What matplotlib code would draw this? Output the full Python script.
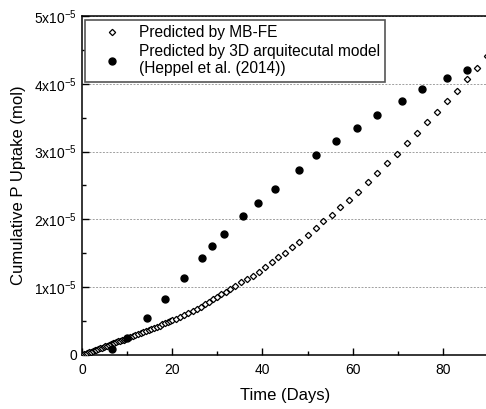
import matplotlib
matplotlib.use('Agg')
import matplotlib.pyplot as plt
from matplotlib.ticker import MultipleLocator, FixedLocator, FixedFormatter

plt.rcParams['font.family'] = ['Liberation Sans', 'DejaVu Sans']
plt.rcParams['mathtext.fontset'] = 'custom'
plt.rcParams['mathtext.rm'] = 'Liberation Sans'
plt.rcParams['mathtext.it'] = 'Liberation Sans:italic'

# MB-FE prediction (days, units of 1e-5 mol)
fe_days = [0.0, 0.4, 0.8, 1.2, 1.6, 2.0, 2.4, 2.8, 3.2, 3.6, 4.0, 4.4, 4.8, 5.2, 5.6,
           6.0, 6.4, 6.8, 7.2, 7.6, 8.0, 8.4, 8.8, 9.2, 9.6,
           10.0, 10.6, 11.2, 11.8, 12.4, 13.0, 13.6, 14.2, 14.8, 15.4, 16.0, 16.6,
           17.2, 17.8, 18.4, 19.0, 19.6,
           20.0, 20.9, 21.8, 22.7, 23.6, 24.5, 25.4, 26.3, 27.2, 28.1, 29.0, 29.9,
           30.9, 31.9, 32.9, 34.0,
           35.3, 36.5, 37.8, 39.2, 40.6, 42.1, 43.5, 45.0, 46.6, 48.1, 50.0, 51.8,
           53.5, 55.4, 57.2, 59.1, 61.1, 63.3, 65.5, 67.7, 69.9, 72.1, 74.3, 76.5,
           78.7, 80.9, 83.1, 85.3, 87.5, 89.7]
fe_uptake = [0.0, 0.01, 0.02, 0.03, 0.04, 0.05, 0.06, 0.07, 0.08, 0.09, 0.10, 0.11, 0.12,
             0.13, 0.14, 0.15, 0.16, 0.17, 0.18, 0.19, 0.20, 0.21, 0.215, 0.225, 0.235,
             0.245, 0.26, 0.275, 0.29, 0.305, 0.32, 0.34, 0.355, 0.37, 0.385, 0.40, 0.415,
             0.43, 0.45, 0.465, 0.48, 0.50,
             0.51, 0.535, 0.565, 0.59, 0.62, 0.65, 0.685, 0.715, 0.75, 0.785, 0.82, 0.855,
             0.895, 0.935, 0.975, 1.02,
             1.08, 1.12, 1.17, 1.22, 1.30, 1.37, 1.44, 1.51, 1.59, 1.67, 1.77, 1.87,
             1.97, 2.07, 2.18, 2.29, 2.41, 2.55, 2.68, 2.83, 2.97, 3.12, 3.27, 3.43,
             3.58, 3.74, 3.90, 4.07, 4.24, 4.41]

# 3D architectural model (Heppel et al. 2014)
arch_days = [6.6, 10.0, 14.5, 18.3, 22.5, 26.7, 28.8, 31.4, 35.8, 39.0, 42.8, 48.0,
             51.8, 56.3, 61.0, 65.4, 71.0, 75.4, 80.9, 85.3]
arch_uptake = [0.09, 0.255, 0.55, 0.83, 1.13, 1.435, 1.61, 1.79, 2.055, 2.246, 2.45, 2.73,
               2.945, 3.156, 3.35, 3.545, 3.75, 3.93, 4.09, 4.20]

y_ticks = [0, 1e-5, 2e-5, 3e-5, 4e-5, 5e-5]
y_tick_labels = ['0', r'$\mathregular{1x10^{-5}}$', r'$\mathregular{2x10^{-5}}$',
                 r'$\mathregular{3x10^{-5}}$', r'$\mathregular{4x10^{-5}}$',
                 r'$\mathregular{5x10^{-5}}$']

fig = plt.figure(figsize=(4.86, 4.09), dpi=100)
ax = fig.add_axes([82 / 486, 1 - 355 / 409, 406 / 486, 339 / 409])

ax.plot(fe_days, [v * 1e-5 for v in fe_uptake], linestyle='none', marker='D',
        ms=3.2, mfc='white', mec='black', mew=0.9, label='Predicted by MB-FE', zorder=3)
ax.plot(arch_days, [v * 1e-5 for v in arch_uptake], linestyle='none', marker='o',
        ms=5.0, mfc='black', mec='black',
        label='Predicted by 3D arquitecutal model\n(Heppel et al. (2014))', zorder=3)

ax.set_xlim(0, 90)
ax.set_ylim(0, 5e-5)
ax.xaxis.set_major_locator(MultipleLocator(20))
ax.xaxis.set_minor_locator(MultipleLocator(10))
ax.yaxis.set_major_locator(FixedLocator(y_ticks))
ax.yaxis.set_major_formatter(FixedFormatter(y_tick_labels))
ax.yaxis.set_minor_locator(MultipleLocator(0.5e-5))
ax.tick_params(which='both', direction='in', labelsize=10, width=1)
ax.tick_params(which='major', length=5)
ax.tick_params(which='minor', length=3)
ax.tick_params(axis='x', pad=6)

ax.yaxis.grid(True, which='major', color='#a0a0a0', linestyle=(0, (2, 1.5)), linewidth=0.7)
ax.set_axisbelow(True)
for s in ax.spines.values():
    s.set_linewidth(1.1)

ax.set_xlabel('Time (Days)', fontsize=12, labelpad=8)
ax.set_ylabel('Cumulative P Uptake (mol)', fontsize=12, labelpad=6)

leg = ax.legend(loc='upper left', bbox_to_anchor=(85 / 486, 1 - 20 / 409),
                bbox_transform=fig.transFigure, fontsize=11.2, frameon=True,
                fancybox=False, framealpha=1, edgecolor='#555555', borderaxespad=0,
                handlelength=2.8, handletextpad=0.3, borderpad=0.35, labelspacing=0.22)
leg.get_frame().set_linewidth(1.2)
leg.set_zorder(5)

fig.savefig('out.png', dpi=100)
